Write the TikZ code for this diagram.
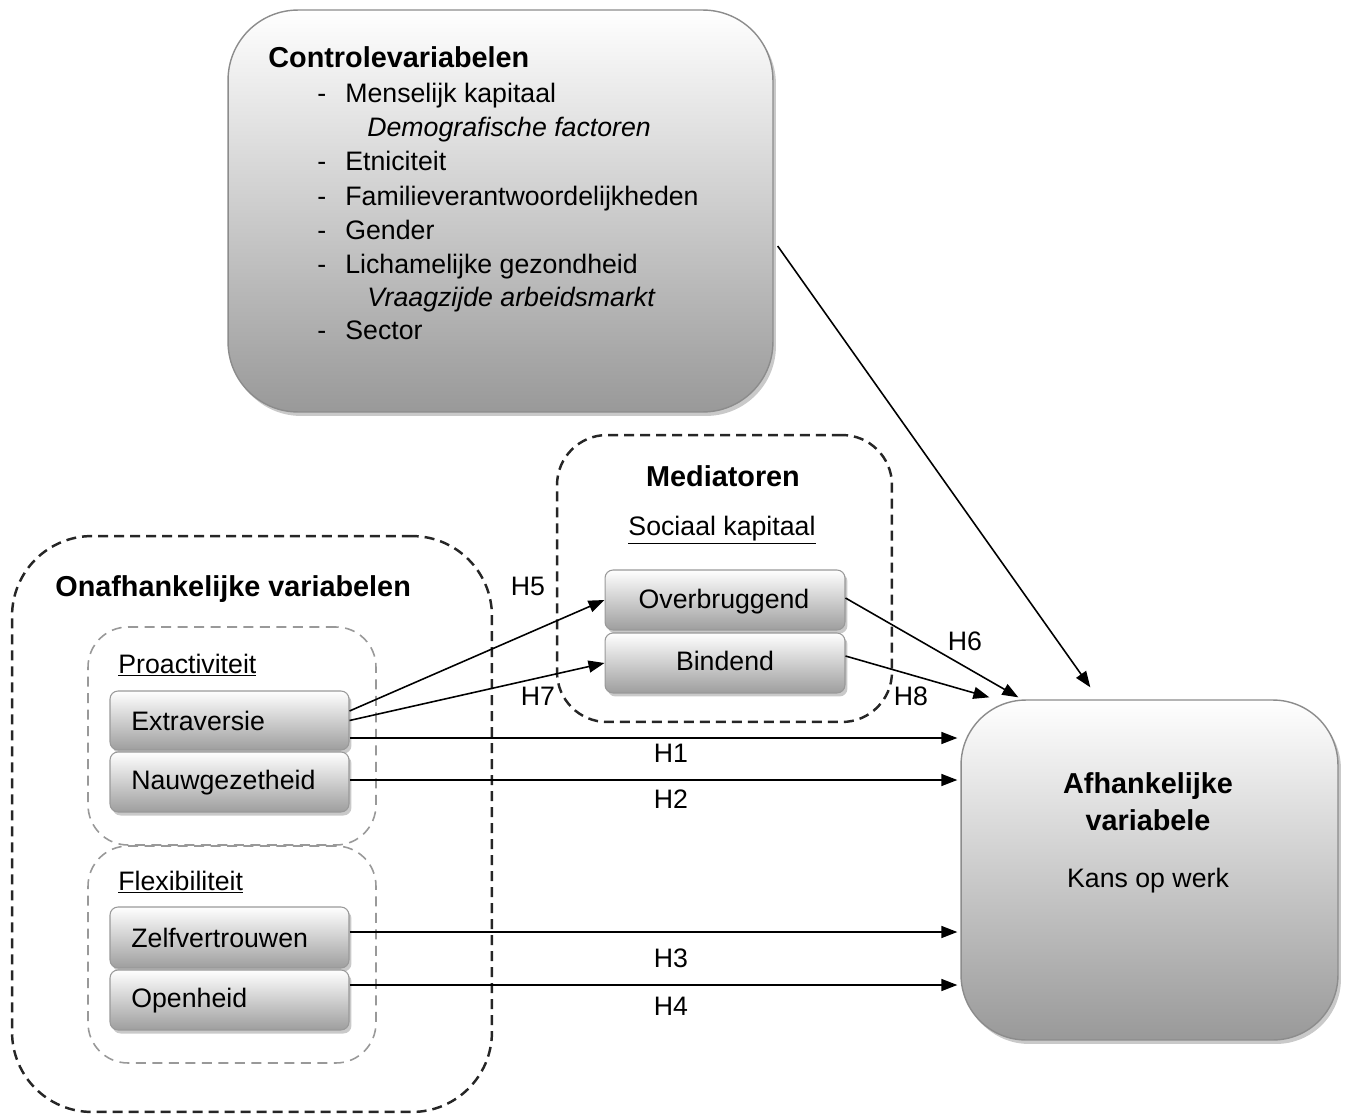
\documentclass[tikz,border=0pt]{standalone}
\usepackage{fontspec}
\setmainfont{Liberation Sans}
\usetikzlibrary{arrows.meta,shadows,calc}
\begin{document}
\begin{tikzpicture}[x=0.02cm,y=-0.02cm,
  bigbox/.style={draw=black!45, line width=0.8pt, top color=white, bottom color=black!40,
    inner sep=0pt, drop shadow={shadow xshift=0.06cm, shadow yshift=-0.08cm, opacity=0.3, fill=black!70}},
  smallbox/.style={draw=black!40, line width=0.6pt, top color=white, bottom color=black!38,
    rounded corners=0.16cm, inner sep=0pt, minimum width=4.78cm,
    drop shadow={shadow xshift=0.05cm, shadow yshift=-0.07cm, opacity=0.3, fill=black!70}},
  blackdash/.style={draw=black!85, line width=1.4pt, dash pattern=on 0.2cm off 0.12cm, inner sep=0pt},
  graydash/.style={draw=black!40, line width=0.9pt, dash pattern=on 0.2cm off 0.13cm,
    rounded corners=0.8cm, inner sep=0pt, minimum width=5.76cm},
  txt/.style={font=\fontsize{15.2}{18}\selectfont, inner sep=0pt},
  hd/.style={font=\fontsize{16.4}{20}\selectfont\bfseries, inner sep=0pt},
  arr/.style={-{Triangle[length=0.32cm,width=0.24cm]}, line width=0.9pt}
]
\useasboundingbox (0,0) rectangle (1346,1115);

% dashed groups
\node[blackdash, rounded corners=1.6cm, minimum width=9.6cm, minimum height=11.52cm] (onaf) at (252,824) {};
\node[blackdash, rounded corners=1.0cm, minimum width=6.7cm, minimum height=5.74cm] (med) at (724.5,578.5) {};
\node[graydash, minimum height=4.36cm] (proa) at (232,736) {};
\node[graydash, minimum height=4.34cm] (flex) at (232,954.5) {};

% control box
\node[bigbox, rounded corners=1.4cm, minimum width=10.9cm, minimum height=8.04cm] (ctrl) at (500.5,211) {};
\node[hd, anchor=base west] (ctrlT) at (268,68) {Controlevariabelen};
\node[txt, anchor=base west] (cd1) at (317,103) {-};
\node[txt, anchor=base west] (ci1) at (345,103) {Menselijk kapitaal};
\node[txt, anchor=base west] (ci2) at (367,136) {\itshape Demografische factoren};
\node[txt, anchor=base west] (cd3) at (317,171) {-};
\node[txt, anchor=base west] (ci3) at (345,171) {Etniciteit};
\node[txt, anchor=base west] (cd4) at (317,205) {-};
\node[txt, anchor=base west] (ci4) at (345,205) {Familieverantwoordelijkheden};
\node[txt, anchor=base west] (cd5) at (317,239) {-};
\node[txt, anchor=base west] (ci5) at (345,239) {Gender};
\node[txt, anchor=base west] (cd6) at (317,273) {-};
\node[txt, anchor=base west] (ci6) at (345,273) {Lichamelijke gezondheid};
\node[txt, anchor=base west] (ci7) at (367,306) {\itshape Vraagzijde arbeidsmarkt};
\node[txt, anchor=base west] (cd8) at (317,339) {-};
\node[txt, anchor=base west] (ci8) at (345,339) {Sector};

% mediators
\node[hd, anchor=base] (medT) at (723,486) {Mediatoren};
\node[txt, anchor=base] (medS) at (722,535) {\underline{Sociaal kapitaal}};
\node[smallbox, minimum width=4.8cm, minimum height=1.2cm] (over) at (725,600) {};
\node[smallbox, minimum width=4.8cm, minimum height=1.2cm] (bind) at (725,663) {};
\node[txt, anchor=base] (overT) at (724,608) {Overbruggend};
\node[txt, anchor=base] (bindT) at (725,670) {Bindend};

% independent
\node[hd, anchor=base west] (onafT) at (55,596) {Onafhankelijke variabelen};
\node[txt, anchor=base west] (proaT) at (118,673) {\underline{Proactiviteit}};
\node[txt, anchor=base west] (flexT) at (118,890) {\underline{Flexibiliteit}};
\node[smallbox, minimum height=1.18cm] (ext) at (229.5,720.5) {};
\node[smallbox, minimum height=1.2cm] (nauw) at (229.5,782) {};
\node[smallbox, minimum height=1.22cm] (zelf) at (229.5,937.5) {};
\node[smallbox, minimum height=1.2cm] (open) at (229.5,1000) {};
\node[txt, anchor=base west] (extT) at (131,730) {Extraversie};
\node[txt, anchor=base west] (nauwT) at (131,789) {Nauwgezetheid};
\node[txt, anchor=base west] (zelfT) at (131,947) {Zelfvertrouwen};
\node[txt, anchor=base west] (openT) at (131,1007) {Openheid};

% dependent
\node[bigbox, rounded corners=1.3cm, minimum width=7.54cm, minimum height=6.8cm] (dep) at (1149.5,870) {};
\node[hd, anchor=base] (depT1) at (1148,793) {Afhankelijke};
\node[hd, anchor=base] (depT2) at (1148,830) {variabele};
\node[txt, anchor=base] (depT3) at (1148,887) {Kans op werk};

% arrows
\draw[arr] ($(ext.east)+(0,-9.5)$) -- (over.west);
\draw[arr] (ext.east) -- (bind.west);
\draw[arr] ($(ext.east)+(0,17.5)$) coordinate (a1) -- (a1 -| {$(dep.west)+(-3,0)$});
\draw[arr] ($(nauw.east)+(0,-2)$) coordinate (a2) -- (a2 -| {$(dep.west)+(-3,0)$});
\draw[arr] ($(zelf.east)+(0,-5.5)$) coordinate (a3) -- (a3 -| {$(dep.west)+(-3,0)$});
\draw[arr] ($(open.east)+(0,-15)$) coordinate (a4) -- (a4 -| {$(dep.west)+(-3,0)$});
\draw[arr] ($(over.east)+(0,-2)$) -- ($(dep.north west)+(58,-2)$);
\draw[arr] ($(bind.east)+(0,-7)$) -- ($(dep.north west)+(29,-2)$);
\draw[arr] ($(ctrl.east)+(4,35)$) -- ($(dep.north west)+(130,-12)$);

% hypothesis labels
\node[txt, anchor=base] (h5) at (528,595) {H5};
\node[txt, anchor=base] (h7) at (538,705) {H7};
\node[txt, anchor=base] (h1) at (671,762) {H1};
\node[txt, anchor=base] (h2) at (671,808) {H2};
\node[txt, anchor=base] (h3) at (671,967) {H3};
\node[txt, anchor=base] (h4) at (671,1015) {H4};
\node[txt, anchor=base] (h6) at (965,650) {H6};
\node[txt, anchor=base] (h8) at (911,705) {H8};
\end{tikzpicture}
\end{document}
